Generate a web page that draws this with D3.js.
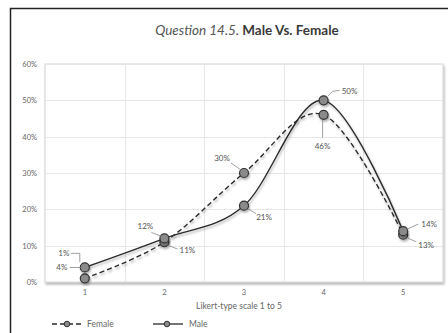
<!DOCTYPE html>
<html>
<head>
<meta charset="utf-8">
<script src="https://cdn.jsdelivr.net/npm/d3@7"></script>
<style>
  html, body { margin: 0; padding: 0; background: #fff; }
  svg { display: block; }
  text { font-family: Lato, "Open Sans", sans-serif; }
</style>
</head>
<body>
<svg id="chart" width="448" height="333"></svg>
<script>
// Likert responses, percent of each group
const categories = ["1", "2", "3", "4", "5"];
const femaleValues = [1, 11, 30, 46, 13];
const maleValues = [4, 12, 21, 50, 14];
const yTicks = [0, 10, 20, 30, 40, 50, 60];

// Data label offsets from each point: [label dx, label dy, leader path]
const femaleLabelPlacement = [
  { dx: -21, dy: -25, leader: [[-14, -25], [-5, -25], [-5, -16]] },
  { dx: 23, dy: 8, leader: [[3, 3], [13, 7]] },
  { dx: -22, dy: -15, leader: [[-13, -10], [-3, -3]] },
  { dx: -1, dy: 31, leader: [[-1, 5], [-1, 23]] },
  { dx: 23, dy: 10, leader: [[4, 3], [13, 7]] }
];
const maleLabelPlacement = [
  { dx: -23, dy: 0, leader: [[-15, 0], [-4, 0]] },
  { dx: -19, dy: -12, leader: [[-13, -6], [-3, -2]] },
  { dx: 20, dy: 11, leader: [[4, 3], [12, 8]] },
  { dx: 26, dy: -9, leader: [[4, -4], [9, -9], [16, -10]] },
  { dx: 26, dy: -7, leader: [[4, -2], [15, -7]] }
];

const svg = d3.select("#chart");
const margin = { left: 45, right: 5, top: 64, bottom: 51 };
const W = 448, H = 333;

const defs = svg.append("defs");
const shadow = defs.append("filter").attr("id", "shadow")
  .attr("x", "-20%").attr("y", "-20%").attr("width", "140%").attr("height", "160%");
shadow.append("feDropShadow").attr("dx", 1).attr("dy", 2)
  .attr("stdDeviation", 1.2).attr("flood-color", "#000").attr("flood-opacity", 0.3);

// Outer frame (only top and left edges fall inside the view)
svg.append("path")
  .attr("d", "M10.5,333 L10.5,8.5 L448,8.5")
  .attr("fill", "none").attr("stroke", "#222").attr("stroke-width", 1.5);

// Title
const title = svg.append("text")
  .attr("x", 247).attr("y", 35)
  .attr("text-anchor", "middle")
  .attr("font-size", 13.5).attr("fill", "#555");
title.append("tspan").attr("font-style", "italic").text("Question 14.5. ");
title.append("tspan").attr("font-weight", "bold").attr("fill", "#3a3a3a").text("Male Vs. Female");

const x = d3.scaleBand().domain(categories)
  .range([margin.left, W - margin.right]);
const y = d3.scaleLinear().domain([0, 60])
  .range([H - margin.bottom, margin.top]);
const cx = c => x(c) + x.bandwidth() / 2;

// Plot area frame
svg.append("rect")
  .attr("x", margin.left).attr("y", margin.top)
  .attr("width", W - margin.right - margin.left)
  .attr("height", H - margin.bottom - margin.top)
  .attr("fill", "#fff").attr("stroke", "#d4d4d4").attr("stroke-width", 1)
  .attr("filter", "url(#shadow)");

// Gridlines
const grid = svg.append("g");
grid.selectAll("line.h").data(yTicks.filter(t => t > 0)).join("line")
  .attr("x1", margin.left).attr("x2", W - margin.right)
  .attr("y1", d => Math.round(y(d)) + 0.5).attr("y2", d => Math.round(y(d)) + 0.5)
  .attr("stroke", "#e6e6e6");
grid.selectAll("line.v").data(categories.slice(1)).join("line")
  .attr("x1", d => Math.round(x(d)) + 0.5).attr("x2", d => Math.round(x(d)) + 0.5)
  .attr("y1", margin.top).attr("y2", H - margin.bottom)
  .attr("stroke", "#e6e6e6");

// Y axis labels
const yAxis = d3.axisLeft(y).tickValues(yTicks).tickFormat(d => d + "%").tickSize(0).tickPadding(8);
const yg = svg.append("g").attr("transform", `translate(${margin.left},0)`).call(yAxis);
yg.select(".domain").remove();
yg.selectAll("text").attr("font-size", 7.5).attr("fill", "#666")
  .attr("font-family", "Lato, sans-serif");

// X axis: thick baseline
const xAxis = d3.axisBottom(x).tickSize(0).tickPadding(8);
const xg = svg.append("g").attr("transform", `translate(0,${H - margin.bottom})`).call(xAxis);
xg.select(".domain").attr("stroke", "#111").attr("stroke-width", 3.5)
  .attr("filter", "url(#shadow)");
xg.selectAll("text").attr("font-size", 7.5).attr("fill", "#666")
  .attr("font-family", "Lato, sans-serif");

svg.append("text")
  .attr("x", (margin.left + W - margin.right) / 2 - 5).attr("y", 309)
  .attr("text-anchor", "middle").attr("font-size", 8.5).attr("fill", "#666")
  .text("Likert-type scale 1 to 5");

// Series
const line = d3.line().x((d, i) => cx(categories[i])).y(d => y(d))
  .curve(d3.curveCatmullRom.alpha(0));

const series = [
  { name: "Female", values: femaleValues, dash: "5,3", labels: femaleLabelPlacement },
  { name: "Male", values: maleValues, dash: null, labels: maleLabelPlacement }
];

series.forEach(s => {
  svg.append("path").datum(s.values)
    .attr("d", line)
    .attr("fill", "none").attr("stroke", "#2a2a2a").attr("stroke-width", 1.4)
    .attr("stroke-dasharray", s.dash)
    .attr("filter", "url(#shadow)");
});

series.forEach(s => {
  svg.append("g").selectAll("circle").data(s.values).join("circle")
    .attr("cx", (d, i) => cx(categories[i])).attr("cy", d => y(d))
    .attr("r", 4.5)
    .attr("fill", "#8a8a8a").attr("stroke", "#333").attr("stroke-width", 1.2)
    .attr("filter", "url(#shadow)");
});

// Data labels with leader lines
series.forEach(s => {
  s.values.forEach((v, i) => {
    const px = cx(categories[i]), py = y(v);
    const p = s.labels[i];
    svg.append("path")
      .attr("d", d3.line()(p.leader.map(([a, b]) => [px + a, py + b])))
      .attr("fill", "none").attr("stroke", "#888").attr("stroke-width", 0.8);
    svg.append("text")
      .attr("x", px + p.dx).attr("y", py + p.dy)
      .attr("dy", "0.35em").attr("text-anchor", "middle")
      .attr("font-size", 8).attr("fill", "#555")
      .text(v + "%");
  });
});

// Legend
const legend = svg.append("g");
const legendItems = [
  { name: "Female", dash: "5,3", x0: 52, x1: 84, tx: 87 },
  { name: "Male", dash: null, x0: 153, x1: 183, tx: 189 }
];
legendItems.forEach(l => {
  legend.append("line").attr("x1", l.x0).attr("x2", l.x1).attr("y1", 324).attr("y2", 324)
    .attr("stroke", "#2a2a2a").attr("stroke-width", 1.3).attr("stroke-dasharray", l.dash);
  legend.append("circle").attr("cx", (l.x0 + l.x1) / 2 - 1).attr("cy", 324).attr("r", 2.8)
    .attr("fill", "#8a8a8a").attr("stroke", "#333").attr("stroke-width", 1);
  legend.append("text").attr("x", l.tx).attr("y", 324).attr("dy", "0.35em")
    .attr("font-size", 8.5).attr("fill", "#666").text(l.name);
});
</script>
</body>
</html>
